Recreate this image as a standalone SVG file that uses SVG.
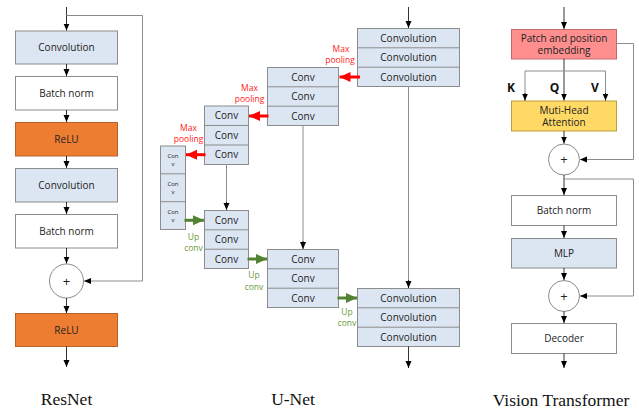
<svg xmlns="http://www.w3.org/2000/svg" width="639" height="411" viewBox="0 0 639 411">
<defs>
<marker id="ah" markerUnits="userSpaceOnUse" markerWidth="8" markerHeight="8" viewBox="0 0 8 8" refX="7" refY="4" orient="auto"><path d="M0,1 L7,4 L0,7 Z" fill="#000"/></marker>
<marker id="ahr" markerUnits="userSpaceOnUse" markerWidth="12" markerHeight="12" viewBox="0 0 12 12" refX="11" refY="6" orient="auto"><path d="M0,1 L11,6 L0,11 Z" fill="#ff0000"/></marker>
<marker id="ahg" markerUnits="userSpaceOnUse" markerWidth="12" markerHeight="12" viewBox="0 0 12 12" refX="11" refY="6" orient="auto"><path d="M0,1 L11,6 L0,11 Z" fill="#548235"/></marker>
</defs>
<style>
.b{stroke:#8c8c8c;stroke-width:1}
.blue{fill:#dce6f2}
.white{fill:#fff}
.orange{fill:#ed7d31;stroke:#b8612a}
.pink{fill:#ff8f8f;stroke:#c86a6a}
.gold{fill:#ffd966;stroke:#bfa040}
.t{font-family:"Open Sans","Liberation Sans",sans-serif;font-size:10px;fill:#222;text-anchor:middle}
.plus{font-family:"Open Sans","Liberation Sans",sans-serif;font-size:13px;fill:#222;text-anchor:middle}
.ts{font-family:"Open Sans","Liberation Sans",sans-serif;font-size:6px;fill:#222;text-anchor:middle}
.red{font-family:"Open Sans","Liberation Sans",sans-serif;font-size:8.5px;fill:#ff2020;text-anchor:middle}
.grn{font-family:"Open Sans","Liberation Sans",sans-serif;font-size:8.5px;fill:#6a9a40;text-anchor:middle}
.kqv{font-family:"Open Sans","Liberation Sans",sans-serif;font-size:12px;font-weight:bold;fill:#111;text-anchor:middle}
.cap{font-family:"Liberation Serif",serif;font-size:17.5px;fill:#111;text-anchor:middle}
.l{fill:none;stroke:#000;stroke-width:0.8}
.g{fill:none;stroke:#8c8c8c;stroke-width:1}
.ra{fill:none;stroke:#ff0000;stroke-width:3}
.ga{fill:none;stroke:#548235;stroke-width:3}
</style>

<!-- ResNet -->
<g id="resnet-conv1"><rect class="b blue" x="15.5" y="31" width="102" height="33"/><text class="t" x="66.5" y="51">Convolution</text></g>
<g id="resnet-bn1"><rect class="b white" x="15.5" y="76.5" width="102" height="33.5"/><text class="t" x="66.5" y="96.5">Batch norm</text></g>
<g id="resnet-relu1"><rect class="b orange" x="15.5" y="122.5" width="102" height="33.5"/><text class="t" x="66.5" y="142.5">ReLU</text></g>
<g id="resnet-conv2"><rect class="b blue" x="15.5" y="168.5" width="102" height="33.5"/><text class="t" x="66.5" y="188.5">Convolution</text></g>
<g id="resnet-bn2"><rect class="b white" x="15.5" y="214.5" width="102" height="33.5"/><text class="t" x="66.5" y="234.5">Batch norm</text></g>
<g id="resnet-add"><circle class="b white" cx="66.5" cy="281" r="17"/><text class="plus" x="66.5" y="285.5">+</text></g>
<g id="resnet-relu2"><rect class="b orange" x="15.5" y="313.5" width="102" height="33"/><text class="t" x="66.5" y="333.5">ReLU</text></g>
<g id="resnet-label"><text class="cap" x="66.5" y="405">ResNet</text></g>

<!-- U-Net -->
<g id="unet-down1"><rect class="b blue" x="357.5" y="28.5" width="102" height="58"/><line class="b" x1="357.5" y1="47.8" x2="459.5" y2="47.8"/><line class="b" x1="357.5" y1="67.2" x2="459.5" y2="67.2"/>
<text class="t" x="408.5" y="41.8">Convolution</text><text class="t" x="408.5" y="61.2">Convolution</text><text class="t" x="408.5" y="80.6">Convolution</text></g>
<g id="unet-down2"><rect class="b blue" x="267.5" y="67.5" width="71" height="58"/><line class="b" x1="267.5" y1="86.8" x2="338.5" y2="86.8"/><line class="b" x1="267.5" y1="106.2" x2="338.5" y2="106.2"/>
<text class="t" x="303" y="80.8">Conv</text><text class="t" x="303" y="100.2">Conv</text><text class="t" x="303" y="119.6">Conv</text></g>
<g id="unet-down3"><rect class="b blue" x="204.5" y="106" width="44" height="58.5"/><line class="b" x1="204.5" y1="125.5" x2="248.5" y2="125.5"/><line class="b" x1="204.5" y1="145" x2="248.5" y2="145"/>
<text class="t" x="226.5" y="119.3">Conv</text><text class="t" x="226.5" y="138.8">Conv</text><text class="t" x="226.5" y="158.3">Conv</text></g>
<g id="unet-bottom"><rect class="b blue" x="160.5" y="146" width="25" height="83.5"/><line class="b" x1="160.5" y1="173.8" x2="185.5" y2="173.8"/><line class="b" x1="160.5" y1="201.7" x2="185.5" y2="201.7"/>
<text class="ts" x="173" y="157.5">Con</text><text class="ts" x="173" y="166">v</text>
<text class="ts" x="173" y="185.5">Con</text><text class="ts" x="173" y="194">v</text>
<text class="ts" x="173" y="213.5">Con</text><text class="ts" x="173" y="222">v</text></g>
<g id="unet-up3"><rect class="b blue" x="204.5" y="210.5" width="44" height="58"/><line class="b" x1="204.5" y1="229.8" x2="248.5" y2="229.8"/><line class="b" x1="204.5" y1="249.2" x2="248.5" y2="249.2"/>
<text class="t" x="226.5" y="223.8">Conv</text><text class="t" x="226.5" y="243.2">Conv</text><text class="t" x="226.5" y="262.6">Conv</text></g>
<g id="unet-up2"><rect class="b blue" x="267.5" y="249.5" width="71" height="58"/><line class="b" x1="267.5" y1="268.8" x2="338.5" y2="268.8"/><line class="b" x1="267.5" y1="288.2" x2="338.5" y2="288.2"/>
<text class="t" x="303" y="262.8">Conv</text><text class="t" x="303" y="282.2">Conv</text><text class="t" x="303" y="301.6">Conv</text></g>
<g id="unet-up1"><rect class="b blue" x="357.5" y="288.5" width="102" height="58"/><line class="b" x1="357.5" y1="307.8" x2="459.5" y2="307.8"/><line class="b" x1="357.5" y1="327.2" x2="459.5" y2="327.2"/>
<text class="t" x="408.5" y="301.8">Convolution</text><text class="t" x="408.5" y="321.2">Convolution</text><text class="t" x="408.5" y="340.6">Convolution</text></g>
<g id="unet-label"><text class="cap" x="293" y="405">U-Net</text></g>

<!-- Vision Transformer -->
<g id="vit-embed"><rect class="b pink" x="511.5" y="29.5" width="105" height="29.5"/><text class="t" x="564" y="41.5">Patch and position</text><text class="t" x="564" y="54">embedding</text></g>
<g id="vit-attn"><rect class="b gold" x="511.5" y="101" width="105" height="30"/><text class="t" x="564" y="113.5">Muti-Head</text><text class="t" x="564" y="126">Attention</text></g>
<g id="vit-add1"><circle class="b white" cx="564" cy="159.5" r="15.5"/><text class="plus" x="564" y="164">+</text></g>
<g id="vit-bn"><rect class="b white" x="511.5" y="195.5" width="105" height="30"/><text class="t" x="564" y="214">Batch norm</text></g>
<g id="vit-mlp"><rect class="b blue" x="511.5" y="238.5" width="105" height="29.5"/><text class="t" x="564" y="257">MLP</text></g>
<g id="vit-add2"><circle class="b white" cx="564" cy="296" r="15.5"/><text class="plus" x="564" y="300.5">+</text></g>
<g id="vit-decoder"><rect class="b white" x="511.5" y="323.5" width="105" height="30"/><text class="t" x="564" y="342">Decoder</text></g>
<g id="vit-label"><text class="cap" x="561" y="406">Vision Transformer</text></g>

<g id="connectors">
<!-- ResNet -->
<line class="l" x1="66.5" y1="7" x2="66.5" y2="30.5" marker-end="url(#ah)"/>
<polyline class="g" points="66.5,15.5 142.5,15.5 142.5,281 84,281" marker-end="url(#ah)"/>
<line class="l" x1="66.5" y1="64" x2="66.5" y2="76" marker-end="url(#ah)"/>
<line class="l" x1="66.5" y1="110" x2="66.5" y2="122" marker-end="url(#ah)"/>
<line class="l" x1="66.5" y1="156" x2="66.5" y2="168" marker-end="url(#ah)"/>
<line class="l" x1="66.5" y1="202" x2="66.5" y2="214" marker-end="url(#ah)"/>
<line class="l" x1="66.5" y1="248" x2="66.5" y2="263.5" marker-end="url(#ah)"/>
<line class="l" x1="66.5" y1="298" x2="66.5" y2="313" marker-end="url(#ah)"/>
<line class="l" x1="66.5" y1="346.5" x2="66.5" y2="367" marker-end="url(#ah)"/>

<!-- U-Net -->
<line class="l" x1="408.5" y1="7" x2="408.5" y2="28" marker-end="url(#ah)"/>
<line class="g" x1="408.5" y1="86.5" x2="408.5" y2="281"/>
<line class="l" x1="408.5" y1="280" x2="408.5" y2="288" marker-end="url(#ah)"/>
<line class="g" x1="303" y1="125.5" x2="303" y2="242"/>
<line class="l" x1="303" y1="241" x2="303" y2="249" marker-end="url(#ah)"/>
<line class="g" x1="226.5" y1="164.5" x2="226.5" y2="203"/>
<line class="l" x1="226.5" y1="202" x2="226.5" y2="210" marker-end="url(#ah)"/>
<line class="l" x1="408.5" y1="346.5" x2="408.5" y2="368" marker-end="url(#ah)"/>

<line class="ra" x1="360" y1="77" x2="339.5" y2="77" marker-end="url(#ahr)"/>
<line class="ra" x1="268.5" y1="116" x2="249" y2="116" marker-end="url(#ahr)"/>
<line class="ra" x1="205.5" y1="154.7" x2="186" y2="154.7" marker-end="url(#ahr)"/>
<text class="red" x="341" y="52">Max</text><text class="red" x="340" y="63">pooling</text>
<text class="red" x="249.5" y="91">Max</text><text class="red" x="249.5" y="102">pooling</text>
<text class="red" x="188.5" y="131">Max</text><text class="red" x="188.5" y="142">pooling</text>

<line class="ga" x1="184.5" y1="220.3" x2="204" y2="220.3" marker-end="url(#ahg)"/>
<line class="ga" x1="247.5" y1="259" x2="267" y2="259" marker-end="url(#ahg)"/>
<line class="ga" x1="337.5" y1="298" x2="357" y2="298" marker-end="url(#ahg)"/>
<text class="grn" x="193.5" y="239.5">Up</text><text class="grn" x="193.5" y="251">conv</text>
<text class="grn" x="254" y="278">Up</text><text class="grn" x="254" y="290">conv</text>
<text class="grn" x="347" y="314.5">Up</text><text class="grn" x="347" y="326">conv</text>

<!-- ViT -->
<line class="l" x1="564" y1="7" x2="564" y2="29" marker-end="url(#ah)"/>
<polyline class="g" points="616.5,43.5 633.5,43.5 633.5,159.5 580,159.5" marker-end="url(#ah)"/>
<line class="l" x1="564" y1="59" x2="564" y2="100.5" marker-end="url(#ah)"/>
<polyline class="g" points="525,100.5 525,71 605.5,71 605.5,100.5"/>
<line class="l" x1="525" y1="93" x2="525" y2="100.5" marker-end="url(#ah)"/>
<line class="l" x1="605.5" y1="93" x2="605.5" y2="100.5" marker-end="url(#ah)"/>
<line class="l" x1="564" y1="131" x2="564" y2="143.5" marker-end="url(#ah)"/>
<line class="l" x1="564" y1="175" x2="564" y2="195" marker-end="url(#ah)"/>
<polyline class="g" points="564,179 633.5,179 633.5,296 580,296" marker-end="url(#ah)"/>
<line class="l" x1="564" y1="225.5" x2="564" y2="238" marker-end="url(#ah)"/>
<line class="l" x1="564" y1="268" x2="564" y2="280" marker-end="url(#ah)"/>
<line class="l" x1="564" y1="311.5" x2="564" y2="323" marker-end="url(#ah)"/>
<line class="l" x1="564" y1="353.5" x2="564" y2="368" marker-end="url(#ah)"/>
<text class="kqv" x="511" y="92">K</text>
<text class="kqv" x="554.5" y="92">Q</text>
<text class="kqv" x="595" y="92">V</text>
</g>
</svg>
